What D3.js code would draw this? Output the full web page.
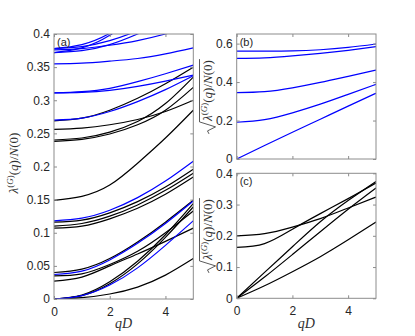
<!DOCTYPE html>
<html>
<head>
<meta charset="utf-8">
<script src="https://cdn.jsdelivr.net/npm/d3@7"></script>
<style>
  body { margin: 0; background: #fff; }
  .tick text { font-family: "Liberation Sans", Arial, sans-serif; font-size: 12px; fill: #262626; }
  .tick line { stroke: #8c8c8c; }
  .box { fill: none; stroke: #8c8c8c; stroke-width: 1; }
  .lab { font-family: "Liberation Serif", "DejaVu Serif", serif; fill: #303030; }
  .tag { font-family: "Liberation Sans", Arial, sans-serif; font-size: 11px; fill: #262626; }
</style>
</head>
<body>
<script>
var qGrid = [0, 1, 2, 3, 4, 5];
var xTicks = [0, 2, 4];
var aYTicks = [0, 0.05, 0.1, 0.15, 0.2, 0.25, 0.3, 0.35, 0.4];
var bYTicks = [0, 0.2, 0.4, 0.6];
var cYTicks = [0, 0.1, 0.2, 0.3, 0.4];

// (a) lambda/N(0), one row per branch, values at qGrid
var aBlack = [
  [0, 0.002, 0.0075, 0.018, 0.036, 0.061],
  [0, 0.005, 0.023, 0.053, 0.093, 0.139],
  [0, 0.006, 0.026, 0.057, 0.097, 0.144],
  [0.027, 0.033, 0.050, 0.068, 0.087, 0.107],
  [0.035, 0.038, 0.052, 0.072, 0.100, 0.133],
  [0.040, 0.045, 0.061, 0.086, 0.116, 0.149],
  [0.107, 0.110, 0.121, 0.137, 0.158, 0.184],
  [0.110, 0.114, 0.125, 0.142, 0.164, 0.190],
  [0.116, 0.119, 0.130, 0.147, 0.169, 0.196],
  [0.149, 0.155, 0.172, 0.205, 0.243, 0.285],
  [0.238, 0.241, 0.249, 0.263, 0.285, 0.3195],
  [0.240, 0.243, 0.252, 0.268, 0.295, 0.335],
  [0.256, 0.258, 0.263, 0.271, 0.283, 0.300],
  [0.269, 0.273, 0.285, 0.303, 0.325, 0.350]
];
var aBlue = [
  [0, 0.005, 0.021, 0.047, 0.081, 0.118],
  [0.037, 0.042, 0.059, 0.084, 0.114, 0.148],
  [0.118, 0.122, 0.134, 0.153, 0.178, 0.208],
  [0.270, 0.273, 0.283, 0.298, 0.316, 0.337],
  [0.311, 0.312, 0.315, 0.321, 0.329, 0.338],
  [0.311, 0.313, 0.318, 0.328, 0.340, 0.353],
  [0.355, 0.356, 0.359, 0.363, 0.370, 0.379],
  [0.372, 0.375, 0.384, 0.400, 0.420, 0.445],
  [0.372, 0.379, 0.398, 0.430, 0.470, 0.520],
  [0.376, 0.378, 0.383, 0.390, 0.400, 0.412],
  [0.378, 0.381, 0.390, 0.405, 0.425, 0.450],
  [0.378, 0.384, 0.401, 0.430, 0.470, 0.520]
];

// (b) sqrt branches, blue
var bBlue = [
  [0, 0.070, 0.139, 0.207, 0.275, 0.342],
  [0.191, 0.205, 0.240, 0.285, 0.336, 0.388],
  [0.345, 0.350, 0.370, 0.398, 0.430, 0.462],
  [0.523, 0.526, 0.536, 0.549, 0.565, 0.584],
  [0.561, 0.561, 0.562, 0.568, 0.580, 0.598]
];

// (c) sqrt branches, black
var cBlack = [
  [0, 0.040, 0.085, 0.133, 0.187, 0.244],
  [0, 0.068, 0.140, 0.213, 0.285, 0.353],
  [0, 0.083, 0.165, 0.245, 0.313, 0.374],
  [0.163, 0.175, 0.221, 0.271, 0.319, 0.369],
  [0.1995, 0.207, 0.228, 0.255, 0.289, 0.324]
];

var width = 415, height = 336;

var svg = d3.select("body").append("svg")
    .attr("width", width)
    .attr("height", height);

var fmt = d3.format("~g");

function panel(id, box, yMax, yTicks, showX, groups, tag) {
  var x = d3.scaleLinear().domain([0, 5]).range([box.left, box.right]);
  var y = d3.scaleLinear().domain([0, yMax]).range([box.bottom, box.top]);
  var g = svg.append("g");

  svg.append("clipPath").attr("id", "clip" + id)
    .append("rect")
      .attr("x", box.left).attr("y", box.top)
      .attr("width", box.right - box.left).attr("height", box.bottom - box.top);

  var line = d3.line()
    .x(function(d, i) { return x(qGrid[i]); })
    .y(function(d) { return y(d); })
    .curve(d3.curveNatural);

  groups.forEach(function(grp) {
    g.append("g").attr("clip-path", "url(#clip" + id + ")")
      .selectAll("path")
      .data(grp.rows)
      .enter().append("path")
        .attr("d", line)
        .attr("fill", "none")
        .attr("stroke", grp.color)
        .attr("stroke-width", 1.2);
  });

  // axes, MATLAB style: ticks inside on all four sides
  var ax = g.append("g").attr("transform", "translate(0," + box.bottom + ")")
    .call(d3.axisBottom(x).tickValues(xTicks).tickSize(-3).tickSizeOuter(0).tickPadding(8)
      .tickFormat(showX ? fmt : ""));
  ax.select(".domain").remove();

  var at = g.append("g").attr("transform", "translate(0," + box.top + ")")
    .call(d3.axisTop(x).tickValues(xTicks).tickSize(-3).tickSizeOuter(0).tickFormat(""));
  at.select(".domain").remove();

  var al = g.append("g").attr("transform", "translate(" + box.left + ",0)")
    .call(d3.axisLeft(y).tickValues(yTicks).tickSize(-3).tickSizeOuter(0).tickPadding(4).tickFormat(fmt));
  al.select(".domain").remove();

  var ar = g.append("g").attr("transform", "translate(" + box.right + ",0)")
    .call(d3.axisRight(y).tickValues(yTicks).tickSize(-3).tickSizeOuter(0).tickFormat(""));
  ar.select(".domain").remove();

  g.append("rect").attr("class", "box")
    .attr("x", box.left).attr("y", box.top)
    .attr("width", box.right - box.left).attr("height", box.bottom - box.top);

  g.append("text").attr("class", "tag")
    .attr("x", box.left + 3).attr("y", box.top + 12)
    .text(tag);
}

// lambda^(G)(q)/N(0) with italic / upright pieces
var labelParts = [["λ", 1, 0], ["(", 0, 1], ["G", 1, 1], [")", 0, 1], ["(", 0, 0], ["q", 1, 0], [")/", 0, 0],
                  ["N", 1, 0], ["(0)", 0, 0]];

function yLabel(xb, yc, withRoot) {
  var g = svg.append("g").attr("transform", "translate(" + xb + "," + yc + ") rotate(-90)");
  var t = g.append("text").attr("class", "lab").style("font-size", "13px");
  var sup = 0;
  labelParts.forEach(function(p) {
    var dy = 0;
    if (p[2] && !sup) { dy = -5; sup = 1; }
    else if (!p[2] && sup) { dy = 5; sup = 0; }
    t.append("tspan")
      .attr("dy", dy)
      .style("font-style", p[1] ? "italic" : "normal")
      .style("font-size", p[2] ? "9px" : "13px")
      .text(p[0]);
  });
  var w = t.node().getComputedTextLength();
  var r = withRoot ? 13 : 0;
  var x0 = -(w + r) / 2 + r;
  t.attr("x", x0);
  if (withRoot) {
    g.append("path")
      .attr("d", "M" + (x0 - r) + ",-3 L" + (x0 - r + 3) + ",-4.5 L" + (x0 - r + 7) + ",3.5 L" +
        (x0 - 1) + ",-12.5 L" + (x0 + w + 1) + ",-12.5")
      .attr("fill", "none")
      .attr("stroke", "#303030")
      .attr("stroke-width", 0.8);
  }
}

function xLabel(cx, yb) {
  svg.append("text").attr("class", "lab")
    .attr("x", cx).attr("y", yb)
    .attr("text-anchor", "middle")
    .style("font-size", "14px")
    .style("font-style", "italic")
    .text("qD");
}

panel("a", { left: 54, right: 193.3, top: 34, bottom: 299 }, 0.4, aYTicks, true,
  [{ rows: aBlack, color: "#000" }, { rows: aBlue, color: "#0000ff" }], "(a)");
panel("b", { left: 236.7, right: 376, top: 34, bottom: 159 }, 0.65, bYTicks, false,
  [{ rows: bBlue, color: "#0000ff" }], "(b)");
panel("c", { left: 236.7, right: 376, top: 173.3, bottom: 298.3 }, 0.4, cYTicks, true,
  [{ rows: cBlack, color: "#000" }], "(c)");

yLabel(18, 163, false);
yLabel(212, 97, true);
yLabel(212, 236, true);
xLabel(123.6, 328);
xLabel(306.3, 328);
</script>
</body>
</html>
